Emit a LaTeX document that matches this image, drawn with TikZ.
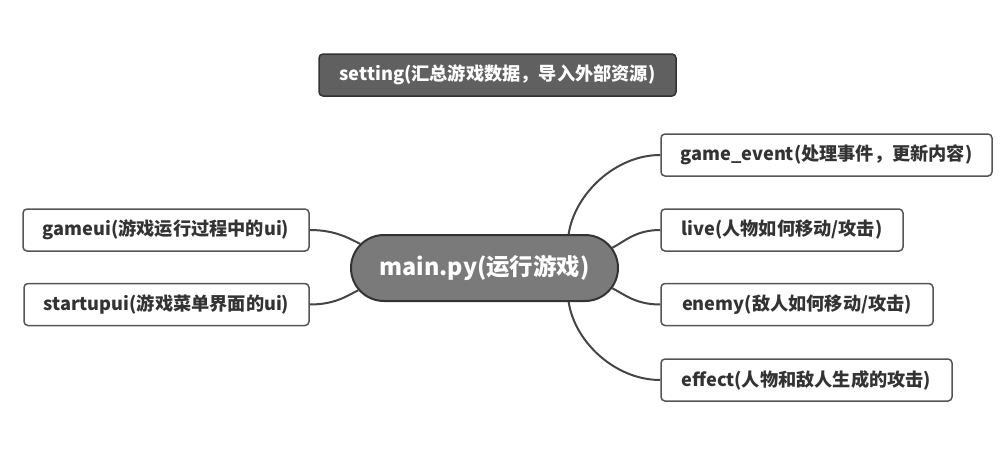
\documentclass[tikz,border=0pt]{standalone}
\usepackage{fontspec}
\setmainfont{Noto Sans CJK SC}
\usetikzlibrary{shapes.misc}
\definecolor{txt}{HTML}{333333}
\definecolor{edge}{HTML}{454545}
\definecolor{boxline}{HTML}{555555}
\definecolor{darkfill}{HTML}{606060}
\definecolor{mainfill}{HTML}{7A7A7A}
\tikzset{
  leaf/.style={draw=boxline, line width=1.5pt, fill=white, rounded corners=4pt,
    minimum height=42pt, inner sep=0pt, text=txt, font=\fontsize{18.2}{18.2}\selectfont\bfseries},
  topbox/.style={draw=txt, line width=1.5pt, fill=darkfill, rounded corners=4pt,
    minimum height=42pt, inner sep=0pt, text=white, font=\fontsize{18.2}{18.2}\selectfont\bfseries},
  centre/.style={rounded rectangle, draw=txt, line width=2pt, fill=mainfill,
    minimum height=66pt, inner sep=0pt, text=white, font=\fontsize{23.4}{23.4}\selectfont\bfseries},
  link/.style={draw=edge, line width=2pt}
}
\begin{document}
\begin{tikzpicture}[x=1pt,y=-1pt]
\useasboundingbox (0,0) rectangle (1008,471);
\node[topbox, minimum width=357pt] (setting) at (497.5,75) {setting(汇总游戏数据，导入外部资源)};
\node[centre, minimum width=267pt] (main) at (484.5,268) {main.py(运行游戏)};
\node[leaf, minimum width=286pt] (gameui) at (166,230) {gameui(游戏运行过程中的ui)};
\node[leaf, minimum width=285pt] (startupui) at (166.5,304.5) {startupui(游戏菜单界面的ui)};
\node[leaf, minimum width=331pt] (event) at (826.5,155) {game\_event(处理事件，更新内容)};
\node[leaf, minimum width=242pt] (live) at (782,230) {live(人物如何移动/攻击)};
\node[leaf, minimum width=272pt] (enemy) at (797,304.5) {enemy(敌人如何移动/攻击)};
\node[leaf, minimum width=291pt] (effect) at (806.5,380) {effect(人物和敌人生成的攻击)};
\draw[link] (gameui.east) .. controls +(25,0) and +(-12,-6) .. (main.169.5);
\draw[link] (startupui.east) .. controls +(25,0) and +(-12,6) .. (main.190.5);
\draw[link] (event.west) .. controls +(-45,0) and +(6,-40) .. (main.22);
\draw[link] (live.west) .. controls +(-25,0) and +(12,-6) .. (main.9.5);
\draw[link] (enemy.west) .. controls +(-25,0) and +(12,6) .. (main.-9.5);
\draw[link] (effect.west) .. controls +(-45,0) and +(6,40) .. (main.-22);
\end{tikzpicture}
\end{document}
